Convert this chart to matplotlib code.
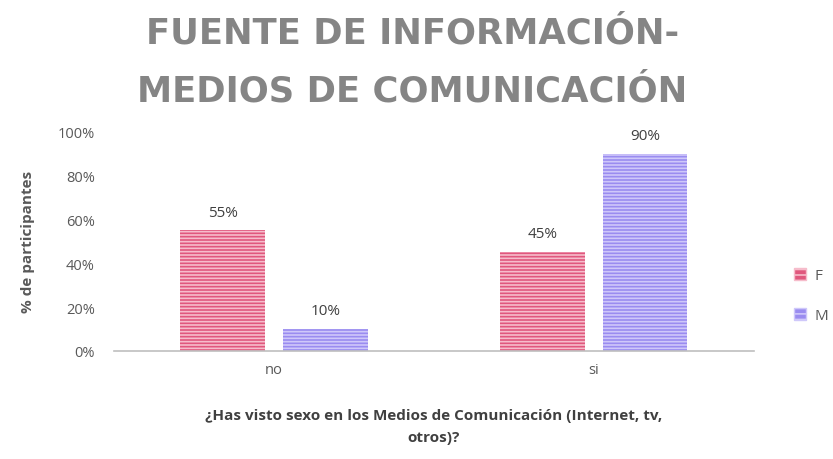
import matplotlib.pyplot as plt
import numpy as np
from matplotlib.patches import Patch

categories = ["no", "si"]
f_values = [55, 45]
m_values = [10, 90]
series = ["F", "M"]

plt.rcParams['font.family'] = ['Open Sans', 'DejaVu Sans']
plt.rcParams['hatch.linewidth'] = 1.2

fig = plt.figure(figsize=(8.33, 4.6), dpi=100)
ax = fig.add_axes([0.137, 0.235, 0.768, 0.476])

x = np.arange(len(categories))
w = 0.265
off = 0.16
f_col, f_hatch = "#e0577d", "#f6bccb"
m_col, m_hatch = "#9a8cf0", "#cfc8fa"

b1 = ax.bar(x - off, f_values, w, color=f_col, edgecolor=f_hatch, hatch="-----", linewidth=0)
b2 = ax.bar(x + off, m_values, w, color=m_col, edgecolor=m_hatch, hatch="-----", linewidth=0)

for bars, vals in ((b1, f_values), (b2, m_values)):
    for b, v in zip(bars, vals):
        ax.text(b.get_x() + b.get_width() / 2, v + 5, f"{v}%", ha="center", va="bottom",
                fontsize=11, color="#404040")

ax.set_xlim(-0.5, 1.5)
ax.set_ylim(0, 100)
ax.set_yticks(range(0, 101, 20))
ax.set_yticklabels([f"{t}%" for t in range(0, 101, 20)])
ax.set_xticks(x)
ax.set_xticklabels(categories)
ax.tick_params(length=0, labelsize=10.5, labelcolor="#595959", pad=14)
ax.tick_params(axis="x", pad=8)
for s in ["top", "right", "left"]:
    ax.spines[s].set_visible(False)
ax.spines["bottom"].set_color("#bfbfbf")
ax.spines["bottom"].set_linewidth(1.2)

ax.set_ylabel("% de participantes", fontsize=11, fontweight="bold", color="#595959", labelpad=16)
ax.set_xlabel("¿Has visto sexo en los Medios de Comunicación (Internet, tv,\notros)?",
              fontsize=11, fontweight="bold", color="#404040", labelpad=22, linespacing=1.8)

fig.text(0.495, 0.864, "FUENTE DE INFORMACIÓN-\nMEDIOS DE COMUNICACIÓN", ha="center", va="center",
         fontsize=25.5, fontweight="bold", color="#858585", linespacing=1.9, family="DejaVu Sans")

handles = [Patch(facecolor=f_col, edgecolor=f_hatch, hatch="---"),
           Patch(facecolor=m_col, edgecolor=m_hatch, hatch="---")]
fig.legend(handles, series, loc="center left", bbox_to_anchor=(0.937, 0.355), frameon=False,
           fontsize=11, labelcolor="#595959", handlelength=0.8, handleheight=0.8,
           labelspacing=1.6, handletextpad=0.5)

fig.savefig("out.png", dpi=100)
